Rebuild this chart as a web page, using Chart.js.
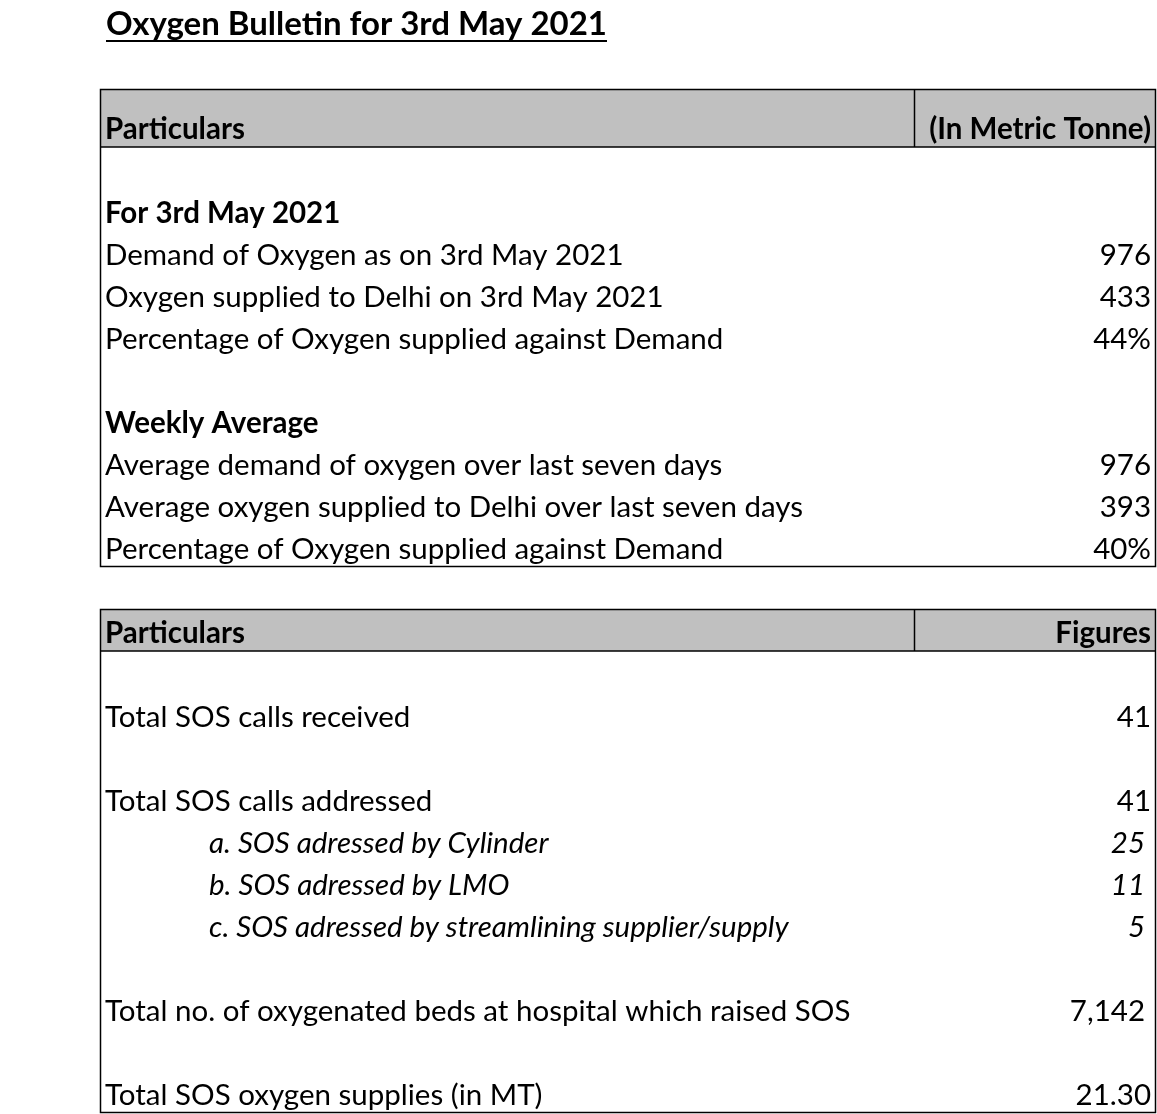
<!DOCTYPE html>
<html><head><meta charset="utf-8">
<script src="https://cdn.jsdelivr.net/npm/chart.js@4/dist/chart.umd.min.js"></script>
<style>html,body{margin:0;padding:0;background:#fff;}#wrap{width:1157px;height:1114px;position:relative;}</style>
</head><body><div id="wrap"><canvas id="c" width="1157" height="1114"></canvas></div>
<script>
// ---- data ----
const title = 'Oxygen Bulletin for 3rd May 2021';
const headers1 = ['Particulars', '(In Metric Tonne)'];
const headers2 = ['Particulars', 'Figures'];
const dailySection = 'For 3rd May 2021';
const dailyLabels = ['Demand of Oxygen as on 3rd May 2021', 'Oxygen supplied to Delhi on 3rd May 2021', 'Percentage of Oxygen supplied against Demand'];
const dailyValues = ['976', '433', '44%'];
const weeklySection = 'Weekly Average';
const weeklyLabels = ['Average demand of oxygen over last seven days', 'Average oxygen supplied to Delhi over last seven days', 'Percentage of Oxygen supplied against Demand'];
const weeklyValues = ['976', '393', '40%'];
const sosLabels = ['Total SOS calls received', 'Total SOS calls addressed', 'a. SOS adressed by Cylinder', 'b. SOS adressed by LMO', 'c. SOS adressed by streamlining supplier/supply', 'Total no. of oxygenated beds at hospital which raised SOS', 'Total SOS oxygen supplies (in MT)'];
const sosValues = ['41', '41', '25', '11', '5', '7,142', '21.30'];

// ---- styling / layout ----
const sosKinds = ['item', 'item', 'sub', 'sub', 'sub', 'itemPad', 'item'];
const sosBlankBefore = [true, true, false, false, false, true, true];
const FONT = 'Lato, "Open Sans", sans-serif';
const SIZE = 29.5;
const COL_SPLIT = 814;   // divider offset from table left
const HEADER1_EXTRA = 16;

const rows = [];
rows.push({label: headers1[0], value: headers1[1], kind: 'header'});
rows.push({label: '', value: '', kind: 'blank'});
rows.push({label: dailySection, value: '', kind: 'section'});
dailyLabels.forEach((l, i) => rows.push({label: l, value: dailyValues[i], kind: 'item'}));
rows.push({label: '', value: '', kind: 'blank'});
rows.push({label: weeklySection, value: '', kind: 'section'});
weeklyLabels.forEach((l, i) => rows.push({label: l, value: weeklyValues[i], kind: 'item'}));
rows.push({label: '', value: '', kind: 'gap'});
rows.push({label: headers2[0], value: headers2[1], kind: 'header'});
sosLabels.forEach((l, i) => {
  if (sosBlankBefore[i]) rows.push({label: '', value: '', kind: 'blank'});
  rows.push({label: l, value: sosValues[i], kind: sosKinds[i]});
});

const isSub = r => r.kind === 'sub';
const padVal = r => r.kind === 'sub' || r.kind === 'itemPad';
const fontFor = r => {
  if (r.kind === 'header' || r.kind === 'section') return {family: FONT, size: SIZE, weight: 'bold'};
  if (r.kind === 'sub') return {family: FONT, size: SIZE, style: 'italic'};
  return {family: FONT, size: SIZE, weight: 'normal'};
};

function catAxis(position, labels, padding) {
  return {
    type: 'category', position, labels, offset: true,
    grid: {display: false}, border: {display: false},
    afterFit(scale) {
      scale.width = 0;
      scale.paddingTop = 0; scale.paddingBottom = 0;
      scale.paddingLeft = 0; scale.paddingRight = 0;
    },
    ticks: {
      mirror: true, padding, autoSkip: false, color: '#000', labelOffset: 3,
      font: ctx => fontFor(rows[ctx.index] || rows[0])
    }
  };
}

const tablePlugin = {
  id: 'tableDeco',
  beforeDraw(chart) {
    const {ctx, chartArea} = chart;
    const s = chart.scales.yMain;
    const band = s.getPixelForTick(1) - s.getPixelForTick(0);
    ctx.save();
    ctx.fillStyle = '#c0c0c0';
    rows.forEach((r, i) => {
      if (r.kind !== 'header') return;
      const top = s.getPixelForTick(i) - band / 2 - (i === 0 ? HEADER1_EXTRA : 0);
      const bot = s.getPixelForTick(i) + band / 2;
      ctx.fillRect(chartArea.left, top, chartArea.right - chartArea.left, bot - top);
    });
    ctx.restore();
  },
  afterDraw(chart) {
    const {ctx, chartArea} = chart;
    const s = chart.scales.yMain;
    const band = s.getPixelForTick(1) - s.getPixelForTick(0);
    const L = chartArea.left, R = chartArea.right;
    ctx.save();
    ctx.strokeStyle = '#000';
    ctx.lineWidth = 1.5;
    const tables = [];
    let start = null;
    rows.forEach((r, i) => {
      if (r.kind === 'header') start = i;
      if (start !== null && (r.kind === 'gap' || i === rows.length - 1)) {
        tables.push([start, r.kind === 'gap' ? i - 1 : i]);
        start = null;
      }
    });
    tables.forEach(([a, b]) => {
      const top = s.getPixelForTick(a) - band / 2 - (a === 0 ? HEADER1_EXTRA : 0);
      const hb = s.getPixelForTick(a) + band / 2;
      const bot = Math.min(s.getPixelForTick(b) + band / 2, chart.height - 1);
      ctx.strokeRect(L + 0.5, top + 0.5, R - L - 1, bot - top - 1);
      ctx.beginPath();
      ctx.moveTo(L, hb); ctx.lineTo(R, hb);
      ctx.moveTo(L + COL_SPLIT + 0.5, top); ctx.lineTo(L + COL_SPLIT + 0.5, hb);
      ctx.stroke();
    });
    // title
    ctx.fillStyle = '#000';
    ctx.font = 'bold 33px ' + FONT;
    ctx.textBaseline = 'alphabetic';
    ctx.textAlign = 'left';
    const tx = L + 6, ty = 35;
    ctx.fillText(title, tx, ty);
    const w = ctx.measureText(title).width;
    ctx.fillRect(tx, ty + 5, w, 2);
    ctx.restore();
  }
};

new Chart(document.getElementById('c'), {
  type: 'bar',
  data: {datasets: []},
  options: {
    responsive: false, animation: false,
    layout: {padding: {left: 100, right: 1, top: 105, bottom: 1}},
    plugins: {legend: {display: false}, tooltip: {enabled: false}, title: {display: false}},
    scales: {
      x: {display: false, min: 0, max: 1},
      yMain: catAxis('left', rows.map(r => isSub(r) ? '' : r.label), 5),
      ySub: catAxis('left', rows.map(r => isSub(r) ? r.label : ''), 109),
      vMain: catAxis('right', rows.map(r => padVal(r) ? '' : r.value), -5),
      vPad: catAxis('right', rows.map(r => padVal(r) ? r.value : ''), -11)
    }
  },
  plugins: [tablePlugin]
});
</script>
</body></html>
